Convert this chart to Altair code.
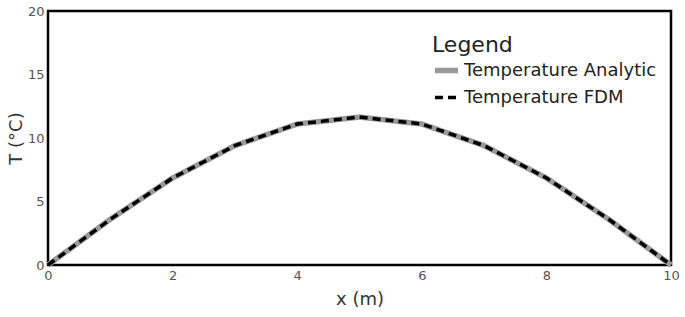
import altair as alt
import pandas as pd

x_vals = [0, 1, 2, 3, 4, 5, 6, 7, 8, 9, 10]
t_analytic = [0, 3.6, 6.85, 9.4, 11.1, 11.65, 11.1, 9.4, 6.85, 3.6, 0]
t_fdm = [0, 3.6, 6.85, 9.4, 11.1, 11.65, 11.1, 9.4, 6.85, 3.6, 0]
series_names = ["Temperature Analytic", "Temperature FDM"]

rows = []
for xv, a in zip(x_vals, t_analytic):
    rows.append({"x": xv, "T": a, "series": series_names[0]})
for xv, f in zip(x_vals, t_fdm):
    rows.append({"x": xv, "T": f, "series": series_names[1]})
df = pd.DataFrame(rows)

font = "DejaVu Sans"

color = alt.Color("series:N", scale=alt.Scale(domain=series_names, range=["#9a9a9a", "#000000"]),
                  legend=alt.Legend(title="Legend", orient="none", legendX=384, legendY=24,
                                    symbolType="stroke", symbolSize=530,
                                    titleFontSize=22, titleFontWeight="normal", titleColor="#222",
                                    titleFont=font, labelFont=font, labelFontSize=18, labelColor="#222",
                                    labelLimit=300, rowPadding=2, titlePadding=-1, labelOffset=3))
dash = alt.StrokeDash("series:N", scale=alt.Scale(domain=series_names, range=[[1, 0], [8, 5]]),
                      legend=alt.Legend(title="Legend"))
width = alt.StrokeWidth("series:N", scale=alt.Scale(domain=series_names, range=[5.5, 3.5]),
                        legend=alt.Legend(title="Legend"))

base = alt.Chart(df).encode(
    x=alt.X("x:Q", title="x (m)", scale=alt.Scale(domain=[0, 10], nice=False),
            axis=alt.Axis(values=[0, 2, 4, 6, 8, 10], grid=False, ticks=False, domain=False,
                          labelFlush=False,
                          labelColor="#555", labelFontSize=13, labelFont=font,
                          titleFont=font, titleFontSize=18, titleFontWeight="normal",
                          titleColor="#333", titlePadding=8, labelPadding=4)),
    y=alt.Y("T:Q", title="T (°C)", scale=alt.Scale(domain=[0, 20], nice=False),
            axis=alt.Axis(values=[0, 5, 10, 15, 20], grid=False, ticks=False, domain=False,
                          labelFlush=False,
                          labelColor="#555", labelFontSize=13, labelFont=font,
                          titleFont=font, titleFontSize=18, titleFontWeight="normal",
                          titleColor="#333", titlePadding=2, labelPadding=4)),
    color=color, strokeDash=dash, strokeWidth=width,
)

l1 = base.transform_filter(alt.datum.series == series_names[0]).mark_line()
l2 = base.transform_filter(alt.datum.series == series_names[1]).mark_line()

chart = alt.layer(l1, l2).properties(
    width=623, height=254, background="white",
    autosize=alt.AutoSizeParams(type="none"),
    padding={"left": 48, "top": 11, "right": 14, "bottom": 52},
).configure_view(stroke="#000", strokeWidth=2.5)

chart.save("out.html", embed_options={"renderer": "svg", "actions": False})
